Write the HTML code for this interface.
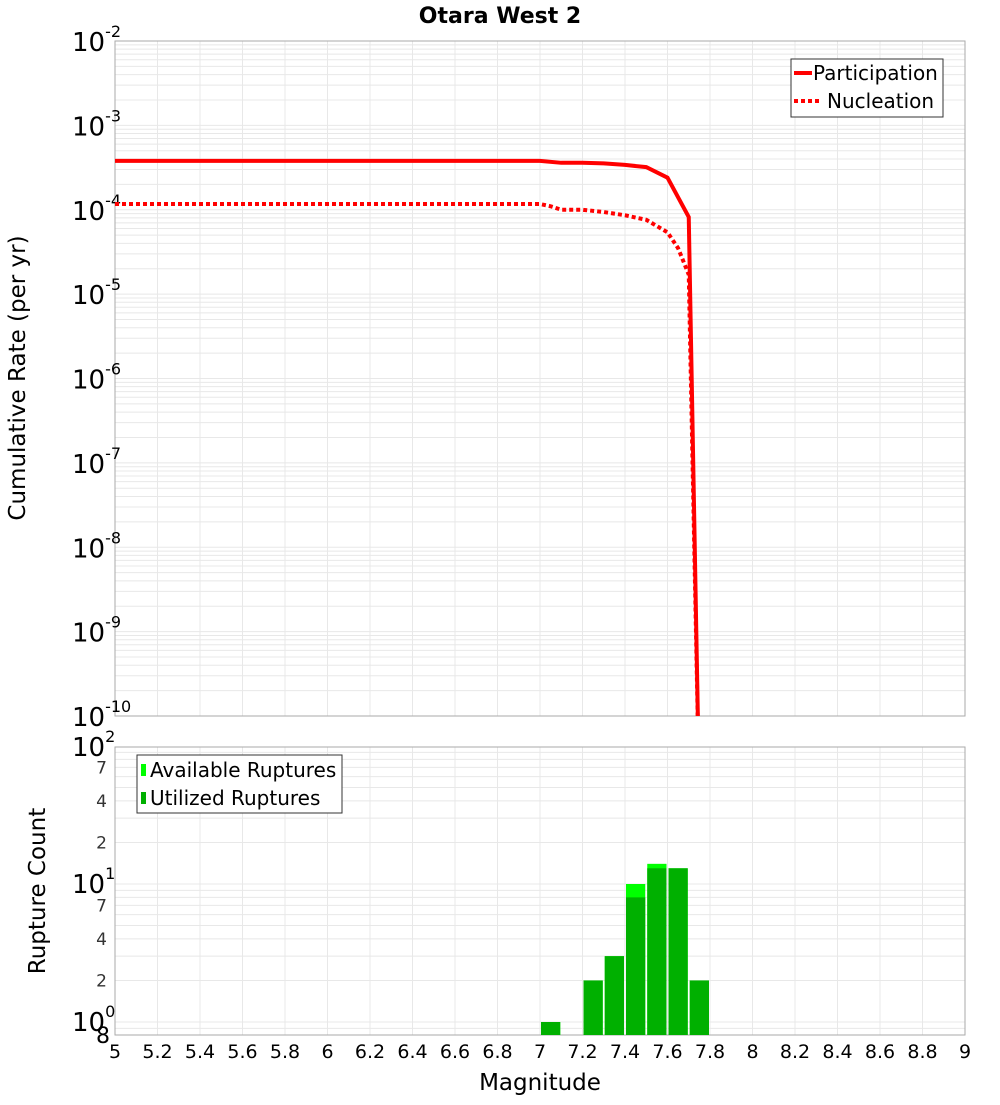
<!DOCTYPE html>
<html><head><meta charset="utf-8"><style>
body{margin:0;background:#fff;font-family:"Liberation Sans","DejaVu Sans",sans-serif}
svg text{font-family:"DejaVu Sans","Liberation Sans",sans-serif}
</style></head><body>
<svg id="c" width="1000" height="1100" xmlns="http://www.w3.org/2000/svg"></svg>
<script>
const partMag=[5,7.0,7.1,7.2,7.3,7.4,7.5,7.6,7.7,7.75];
const partRate=[3.8e-4,3.8e-4,3.6e-4,3.6e-4,3.55e-4,3.4e-4,3.2e-4,2.4e-4,8.2e-5,1e-11];
const nuclMag=[5,7.0,7.05,7.1,7.2,7.3,7.4,7.5,7.6,7.65,7.7,7.75];
const nuclRate=[1.17e-4,1.17e-4,1.1e-4,1.0e-4,1.0e-4,9.4e-5,8.6e-5,7.6e-5,5.4e-5,3.5e-5,1.7e-5,1e-11];
const binMag=[7.05,7.25,7.35,7.45,7.55,7.65,7.75];
const availCount=[1,2,3,10,14,13,2];
const usedCount=[1,2,3,8,13,13,2];
const xTicks=[5,5.2,5.4,5.6,5.8,6,6.2,6.4,6.6,6.8,7,7.2,7.4,7.6,7.8,8,8.2,8.4,8.6,8.8,9];

const svg=document.getElementById('c');const NS='http://www.w3.org/2000/svg';
function el(t,a,p){const e=document.createElementNS(NS,t);for(const k in a)e.setAttribute(k,a[k]);(p||svg).appendChild(e);return e;}
const X0=115,X1=965;const x=m=>X0+(m-5)/4*(X1-X0);
const T0=41,T1=716;const yT=v=>T0+(-2-Math.log10(v))*(T1-T0)/8;
const B0=747,B1=1035;const D=138,Bz=1022;const yB=v=>Bz-Math.log10(v)*D;

let t=el('text',{x:500,y:23,'text-anchor':'middle','font-size':22,'font-weight':'bold'});t.textContent='Otara West 2';


function grid(y0,y1,yf,lo,hi,name){
  const g=el('g',{});
  for(let d=lo;d<hi;d++)for(let k=1;k<10;k++){const yy=yf(k*Math.pow(10,d));if(yy>=y0&&yy<=y1)el('line',{x1:X0,x2:X1,y1:yy,y2:yy,stroke:'#e8e8e8','stroke-width':1},g);}
  xTicks.forEach(m=>el('line',{x1:x(m),x2:x(m),y1:y0,y2:y1,stroke:'#e8e8e8'},g));
}
grid(T0,T1,yT,-10,-2,'top-grid');grid(B0,B1,yB,-1,2,'bottom-grid');
let r=el('rect',{x:X0,y:T0,width:X1-X0,height:T1-T0,fill:'none',stroke:'#aaa'});
r=el('rect',{x:X0,y:B0,width:X1-X0,height:B1-B0,fill:'none',stroke:'#aaa'});

for(let e=-10;e<=-2;e++){const yy=yT(Math.pow(10,e));
  const tx=el('text',{x:72,y:yy+10,'font-size':26});tx.textContent='10';
  const s=el('tspan',{dy:-14,'font-size':16});s.textContent=String(e);tx.appendChild(s);
  }
t=el('text',{x:0,y:0,'font-size':23,'text-anchor':'middle',transform:'translate(25,378) rotate(-90)'});t.textContent='Cumulative Rate (per yr)';


const cp=el('clipPath',{id:'tc'});el('rect',{x:X0,y:T0,width:X1-X0,height:T1-T0},cp);
function line(ms,vs,dash,name){const p=el('polyline',{points:ms.map((m,i)=>x(m)+','+yT(vs[i])).join(' '),fill:'none',stroke:'#f00','stroke-width':4,'clip-path':'url(#tc)'});
  if(dash)p.setAttribute('stroke-dasharray',dash);}
line(partMag,partRate,null,'participation-line');line(nuclMag,nuclRate,'4,3','nucleation-line');

let lg=el('g',{});
el('rect',{x:791,y:59,width:152,height:58,fill:'#fff',stroke:'#333'},lg);
el('line',{x1:794,x2:812,y1:73,y2:73,stroke:'#f00','stroke-width':4},lg);
el('line',{x1:794,x2:822,y1:101,y2:101,stroke:'#f00','stroke-width':4,'stroke-dasharray':'4,3'},lg);
t=el('text',{x:813,y:80,'font-size':20},lg);t.textContent='Participation';
t=el('text',{x:827,y:108,'font-size':20},lg);t.textContent='Nucleation';

[[2,747],[1,884],[0,1022]].forEach(([e,yy])=>{const tx=el('text',{x:72,y:yy+9,'font-size':26});tx.textContent='10';
  const s=el('tspan',{dy:-14,'font-size':16});s.textContent=String(e);tx.appendChild(s);
  });
[7,4,2,70,40,20].forEach(v=>{const yy=yB(v);const tx=el('text',{x:107,y:yy+6,'font-size':17,'text-anchor':'end',fill:'#333'});tx.textContent=String(v<10?v:v/10);
  });
t=el('text',{x:96,y:1043,'font-size':22});t.textContent='8';
t=el('text',{x:0,y:0,'font-size':23,'text-anchor':'middle',transform:'translate(45,891) rotate(-90)'});t.textContent='Rupture Count';


binMag.forEach((m,i)=>{const bx=x(m-0.05)+1,bw=x(0.1+5)-X0-2;
  let b=el('rect',{x:bx,y:yB(availCount[i]),width:bw,height:B1-yB(availCount[i]),fill:'#00ff00'});
  
  b=el('rect',{x:bx,y:yB(usedCount[i]),width:bw,height:B1-yB(usedCount[i]),fill:'#00b000'});
  });

lg=el('g',{});
el('rect',{x:137,y:755,width:205,height:58,fill:'#fff',stroke:'#333'},lg);
el('rect',{x:141,y:764,width:5,height:12,fill:'#00ff00'},lg);
el('rect',{x:141,y:792,width:5,height:12,fill:'#00b000'},lg);
t=el('text',{x:150,y:777,'font-size':20},lg);t.textContent='Available Ruptures';
t=el('text',{x:150,y:805,'font-size':20},lg);t.textContent='Utilized Ruptures';

xTicks.forEach(m=>{const tx=el('text',{x:x(m),y:1058,'font-size':19,'text-anchor':'middle'});tx.textContent=String(m);
  });
t=el('text',{x:540,y:1090,'font-size':23,'text-anchor':'middle'});t.textContent='Magnitude';

</script>
</body></html>
